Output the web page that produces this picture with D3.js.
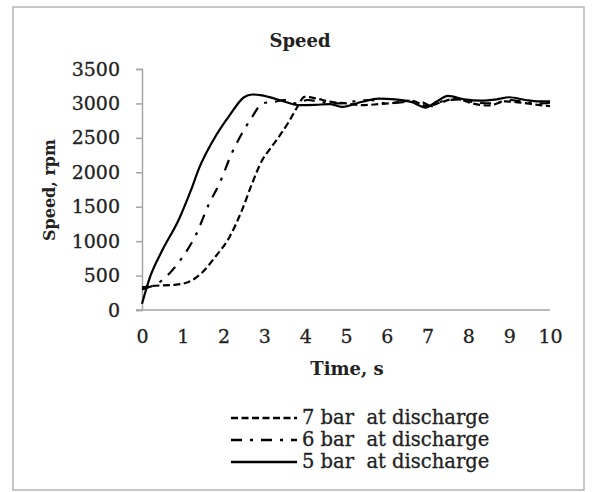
<!DOCTYPE html>
<html>
<head>
<meta charset="utf-8">
<script src="https://cdn.jsdelivr.net/npm/d3@7"></script>
<style>
  html, body { margin: 0; padding: 0; background: #fff; }
  text { font-family: "DejaVu Serif", "Liberation Serif", serif; fill: #222; }
  .plain { stroke: #222; stroke-width: 0.3px; }
</style>
</head>
<body>
<svg id="chart" width="592" height="492"></svg>
<script>
// Shaft speed after start-up for three discharge pressures
const xTicks = [0, 1, 2, 3, 4, 5, 6, 7, 8, 9, 10];
const yTicks = [0, 500, 1000, 1500, 2000, 2500, 3000, 3500];

const time7 = [0, 0.25, 0.8, 1.15, 1.5, 1.8, 2.15, 2.45, 2.7, 2.95, 3.12, 3.33, 3.6, 3.82, 3.98, 4.25, 4.6, 5.0, 5.4, 5.8, 6.2, 6.6, 7.0, 7.3, 7.7, 8.1, 8.5, 8.9, 9.3, 9.7, 10];
const speed7 = [330, 350, 365, 410, 560, 775, 1065, 1450, 1840, 2180, 2325, 2495, 2735, 2960, 3095, 3075, 3025, 3000, 2975, 2990, 3010, 3040, 2960, 3010, 3070, 3000, 2970, 3030, 3010, 2980, 2960];

const time6 = [0, 0.5, 1.0, 1.3, 1.65, 1.9, 2.2, 2.5, 2.7, 2.95, 3.25, 3.5, 3.8, 4.05, 4.4, 4.8, 5.2, 5.6, 6.0, 6.4, 6.8, 7.1, 7.4, 7.8, 8.2, 8.6, 9.0, 9.4, 9.8, 10];
const speed6 = [300, 435, 775, 1065, 1550, 1840, 2275, 2615, 2805, 3000, 3025, 3050, 3000, 3050, 3020, 3000, 3030, 3050, 3000, 3020, 3030, 2960, 3040, 3060, 3010, 3000, 3050, 3020, 3000, 3010];

const time5 = [0, 0.2, 0.5, 0.9, 1.2, 1.4, 1.75, 2.15, 2.5, 2.7, 2.9, 3.1, 3.5, 3.85, 4.25, 4.6, 4.9, 5.4, 5.8, 6.2, 6.6, 6.95, 7.2, 7.5, 7.9, 8.3, 8.7, 9.0, 9.4, 9.7, 10];
const speed5 = [90, 484, 870, 1310, 1740, 2060, 2470, 2830, 3090, 3130, 3120, 3095, 3025, 2975, 2980, 2990, 2950, 3025, 3070, 3060, 3020, 2940, 3020, 3110, 3060, 3040, 3060, 3090, 3050, 3030, 3030];

const seriesNames = ["7 bar  at discharge", "6 bar  at discharge", "5 bar  at discharge"];
const series = [
  { name: seriesNames[0], t: time7, v: speed7, dash: "7,3.5" },
  { name: seriesNames[1], t: time6, v: speed6, dash: "11,8,3,8" },
  { name: seriesNames[2], t: time5, v: speed5, dash: null }
];

const svg = d3.select("#chart");

// outer frame
svg.append("rect")
  .attr("x", 13).attr("y", 7).attr("width", 571).attr("height", 483)
  .attr("fill", "none").attr("stroke", "#b5b5b5").attr("stroke-width", 1.5);

const x = d3.scaleLinear().domain([0, 10]).range([142, 550]);
const y = d3.scaleLinear().domain([0, 3500]).range([310, 69]);

// title
svg.append("text")
  .attr("x", 300).attr("y", 47)
  .attr("text-anchor", "middle")
  .style("font-weight", "bold").style("font-size", "18px")
  .text("Speed");

// y axis
const yAxis = svg.append("g")
  .attr("transform", `translate(${x(0)},0)`)
  .call(d3.axisLeft(y).tickValues(yTicks).tickSize(6).tickPadding(16).tickFormat(d3.format("d")));
yAxis.selectAll("path, line").attr("stroke", "#a6a6a6").attr("stroke-width", 1.5);
yAxis.selectAll("text").attr("class", "plain").style("font-size", "19px").attr("fill", "#222").attr("font-family", null);

// x axis (labels only, no tick marks)
const xAxis = svg.append("g")
  .attr("transform", `translate(0,${y(0)})`)
  .call(d3.axisBottom(x).tickValues(xTicks).tickSize(0).tickSizeOuter(0).tickPadding(20).tickFormat(d3.format("d")));
xAxis.select(".domain").attr("d", `M${x(0) - 6},0H${x(10)}`);
xAxis.selectAll("path").attr("stroke", "#a6a6a6").attr("stroke-width", 1.5);
xAxis.selectAll("text").attr("class", "plain").style("font-size", "19px").attr("fill", "#222").attr("font-family", null);

// axis titles
svg.append("text")
  .attr("x", 347).attr("y", 375)
  .attr("text-anchor", "middle")
  .style("font-weight", "bold").style("font-size", "18px")
  .text("Time, s");

svg.append("text")
  .attr("transform", "translate(55,190) rotate(-90)")
  .attr("text-anchor", "middle")
  .style("font-weight", "bold").style("font-size", "16px")
  .text("Speed, rpm");

// curves
const line = d3.line()
  .x(d => x(d[0]))
  .y(d => y(d[1]))
  .curve(d3.curveMonotoneX);

svg.append("g").selectAll("path")
  .data(series)
  .join("path")
  .attr("d", s => line(s.t.map((t, i) => [t, s.v[i]])))
  .attr("fill", "none")
  .attr("stroke", "#000")
  .attr("stroke-width", 2.2)
  .attr("stroke-dasharray", s => s.dash);

// legend
const legend = svg.append("g");
const rows = legend.selectAll("g")
  .data(series)
  .join("g")
  .attr("transform", (s, i) => `translate(231,${418 + i * 22})`);
rows.append("line")
  .attr("x1", 0).attr("x2", 66).attr("y1", 0).attr("y2", 0)
  .attr("stroke", "#000").attr("stroke-width", 2.5)
  .attr("stroke-dasharray", s => s.dash);
rows.append("text")
  .attr("class", "plain")
  .attr("x", 71).attr("y", 6)
  .style("font-size", "19.5px")
  .style("white-space", "pre")
  .text(s => s.name);
</script>
</body>
</html>
